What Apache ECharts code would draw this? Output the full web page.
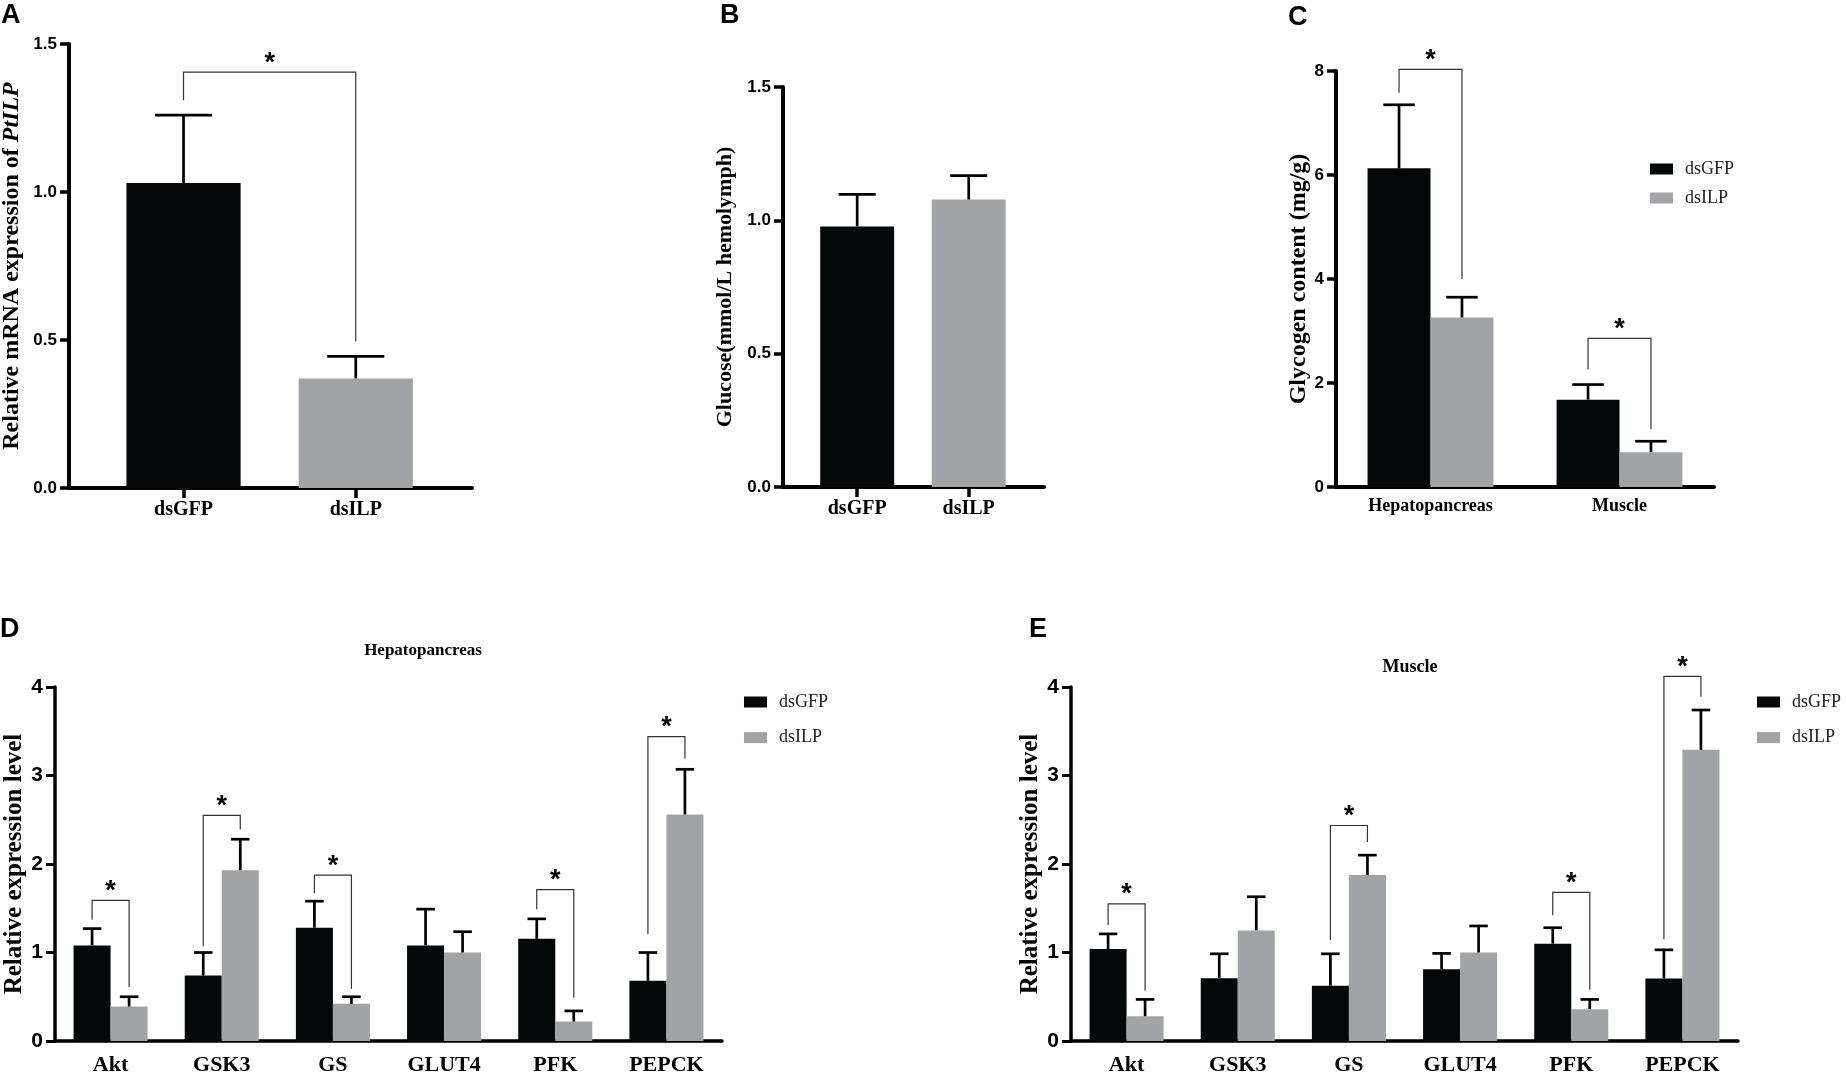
<!DOCTYPE html>
<html>
<head>
<meta charset="utf-8">
<title>ILP knockdown - glycogen and gene expression</title>
<script src="https://cdn.jsdelivr.net/npm/echarts@6/dist/echarts.min.js"></script>
<style>
    html, body { margin: 0; padding: 0; background: #fff; }
    #main { width: 1846px; height: 1075px; }
</style>
</head>
<body>
<div id="main"></div>
<script>
    // groups used in every panel
    var groups = ['dsGFP', 'dsILP'];
    var colors = ['#050808', '#a2a3a6'];

    // A: relative mRNA expression of PtILP
    var aMean = [1.03, 0.37];
    var aErr = [1.26, 0.445];
    var aSig = [[0, 1.405, 1.31, 0.495]];      // [from, top, left leg end, right leg end]

    // B: glucose (mmol/L hemolymph)
    var bMean = [0.977, 1.078];
    var bErr = [1.097, 1.168];

    // C: glycogen content (mg/g)
    var tissues = ['Hepatopancreas', 'Muscle'];
    var cGfp = [6.13, 1.68];
    var cGfpErr = [7.35, 1.97];
    var cIlp = [3.26, 0.67];
    var cIlpErr = [3.65, 0.88];
    var cSig = [[0, 8.03, 7.58, 4.0], [1, 2.86, 2.26, 1.11]];

    // D: hepatopancreas genes
    var genes = ['Akt', 'GSK3', 'GS', 'GLUT4', 'PFK', 'PEPCK'];
    var dGfp = [1.08, 0.74, 1.28, 1.08, 1.155, 0.68];
    var dGfpErr = [1.27, 1.00, 1.58, 1.49, 1.38, 1.00];
    var dIlp = [0.39, 1.93, 0.42, 1.00, 0.22, 2.56];
    var dIlpErr = [0.50, 2.28, 0.50, 1.235, 0.34, 3.07];
    var dSig = [[0, 1.59, 1.37, 0.61], [1, 2.55, 1.07, 2.39], [2, 1.875, 1.67, 0.59],
                [4, 1.71, 1.49, 0.49], [5, 3.44, 1.21, 3.19]];

    // E: muscle genes
    var eGfp = [1.04, 0.71, 0.625, 0.81, 1.10, 0.705];
    var eGfpErr = [1.21, 0.985, 0.985, 0.99, 1.28, 1.03];
    var eIlp = [0.28, 1.25, 1.875, 1.00, 0.36, 3.29];
    var eIlpErr = [0.47, 1.63, 2.10, 1.30, 0.47, 3.74];
    var eSig = [[0, 1.55, 1.31, 0.57], [2, 2.435, 1.14, 2.25], [4, 1.68, 1.42, 0.58],
                [5, 4.12, 1.15, 3.89]];

    var SERIF = '"Liberation Serif", "Times New Roman", serif';
    var SANS = '"Liberation Sans", Arial, sans-serif';
    var NARROW = '"Liberation Sans Narrow", "Liberation Sans", Arial, sans-serif';

    // error bar (upper only) drawn through the axes
    function errorBars(gi, means, tops, shift, barFrac) {
        return {
            type: 'custom', xAxisIndex: gi, yAxisIndex: gi, z: 4, silent: true,
            data: means.map(function (m, i) { return [i, m, tops[i]]; }),
            encode: { x: 0, y: [1, 2] },
            renderItem: function (params, api) {
                var p0 = api.coord([api.value(0), api.value(1)]);
                var p1 = api.coord([api.value(0), api.value(2)]);
                var band = api.size([1, 0])[0];
                var x = p0[0] + shift * band;
                var half = barFrac * band / 4;
                var st = { stroke: '#000', lineWidth: 2.7 };
                return {
                    type: 'group', children: [
                        { type: 'line', shape: { x1: x, y1: p0[1], x2: x, y2: p1[1] }, style: st },
                        { type: 'line', shape: { x1: x - half, y1: p1[1], x2: x + half, y2: p1[1] }, style: st }
                    ]
                };
            }
        };
    }

    // significance bracket with star
    function brackets(gi, rows, leftShift, rightShift) {
        return {
            type: 'custom', xAxisIndex: gi, yAxisIndex: gi, z: 5, silent: true,
            data: rows,
            encode: { x: 0, y: [1, 2, 3] },
            renderItem: function (params, api) {
                var c = api.value(0);
                var top = api.coord([c, api.value(1)]);
                var yl = api.coord([c, api.value(2)])[1];
                var yr = api.coord([c, api.value(3)])[1];
                var band = api.size([1, 0])[0];
                var xl = top[0] + leftShift * band;
                var xr = top[0] + rightShift * band;
                return {
                    type: 'group', children: [
                        {
                            type: 'polyline',
                            shape: { points: [[xl, yl], [xl, top[1]], [xr, top[1]], [xr, yr]] },
                            style: { stroke: '#333', lineWidth: 1.2, fill: 'none' }
                        },
                        {
                            type: 'text', x: (xl + xr) / 2, y: top[1] - 9,
                            style: {
                                text: '*', fill: '#000', align: 'center', verticalAlign: 'middle',
                                fontFamily: SANS, fontWeight: 'bold', fontSize: 27
                            }
                        }
                    ]
                };
            }
        };
    }

    function yAxis(gi, max, step, digits, name, nameSize, nameGap, labelSize, lineW, labelFont, rich) {
        return {
            gridIndex: gi, type: 'value', min: 0, max: max, interval: step,
            name: name, nameLocation: 'middle', nameGap: nameGap,
            nameTextStyle: rich ? { rich: rich } : {
                fontFamily: SERIF, fontWeight: 'bold', fontSize: nameSize, color: '#000'
            },
            splitLine: { show: false },
            axisLine: { show: true, onZero: false, lineStyle: { color: '#000', width: lineW } },
            axisTick: { show: true, length: 9, lineStyle: { color: '#000', width: lineW - 0.5 } },
            axisLabel: {
                margin: 12, color: '#000', fontFamily: labelFont, fontWeight: 'bold', fontSize: labelSize,
                formatter: function (v) { return v.toFixed(digits); }
            }
        };
    }

    function catAxis(gi, cats, fontSize, margin, lineW) {
        return {
            gridIndex: gi, type: 'category', data: cats,
            axisLine: { onZero: false, lineStyle: { color: '#000', width: lineW } },
            axisTick: { alignWithLabel: true, length: 10, lineStyle: { color: '#000', width: lineW - 0.5 } },
            axisLabel: {
                margin: margin, color: '#000', fontFamily: SERIF, fontWeight: 'bold', fontSize: fontSize
            }
        };
    }

    // A and B use a value axis so the two bars can sit closer than a category band
    function pairAxis(gi) {
        return {
            gridIndex: gi, type: 'value', min: -0.665, max: 1.675,
            splitLine: { show: false },
            axisLine: { onZero: false, lineStyle: { color: '#000', width: 4 } },
            axisTick: { customValues: [0, 1], length: 10, lineStyle: { color: '#000', width: 3.5 } },
            axisLabel: {
                customValues: [0, 1], margin: 12, color: '#000',
                fontFamily: SERIF, fontWeight: 'bold', fontSize: 20,
                formatter: function (v) { return groups[v] || ''; }
            }
        };
    }

    function pairBars(gi, means) {
        return {
            type: 'bar', xAxisIndex: gi, yAxisIndex: gi, barWidth: '66.3%', silent: true,
            data: means.map(function (v, i) {
                return { value: [i, v], itemStyle: { color: colors[i] } };
            })
        };
    }

    function groupBars(gi, gfp, ilp) {
        return [gfp, ilp].map(function (vals, k) {
            return {
                type: 'bar', name: groups[k], xAxisIndex: gi, yAxisIndex: gi,
                barWidth: '33.3%', barGap: '0%', silent: true,
                itemStyle: { color: colors[k] }, data: vals
            };
        });
    }

    function legend(left, top, gap) {
        return {
            left: left, top: top, orient: 'vertical', padding: 0,
            itemWidth: 23, itemHeight: 11, itemGap: gap, icon: 'rect', selectedMode: false,
            data: groups,
            textStyle: { fontFamily: SERIF, fontSize: 18, color: '#222', padding: [0, 0, 0, 7] }
        };
    }

    function letter(txt, x, y) {
        return {
            type: 'text', left: x, top: y,
            style: { text: txt, fill: '#000', fontFamily: SANS, fontWeight: 'bold', fontSize: 27 }
        };
    }

    var gridBase = { containLabel: false, outerBoundsMode: 'none' };
    var grids = [
        { left: 69, top: 44, width: 403, height: 444 },
        { left: 783, top: 87, width: 261, height: 400 },
        { left: 1336, top: 71, width: 378, height: 416 },
        { left: 55, top: 687, width: 667, height: 354 },
        { left: 1071, top: 687, width: 667, height: 354 }
    ].map(function (g) { return Object.assign({}, gridBase, g); });

    var richA = {
        n: { fontFamily: SERIF, fontWeight: 'bold', fontSize: 24, color: '#000' },
        i: { fontFamily: SERIF, fontWeight: 'bold', fontStyle: 'italic', fontSize: 24, color: '#000' }
    };

    var option = {
        animation: false,
        backgroundColor: '#fff',
        title: [
            { text: 'Hepatopancreas', left: 418, top: 637, textAlign: 'center',
              textStyle: { fontFamily: SERIF, fontWeight: 'bold', fontSize: 17, color: '#000' } },
            { text: 'Muscle', left: 1405, top: 653, textAlign: 'center',
              textStyle: { fontFamily: SERIF, fontWeight: 'bold', fontSize: 18, color: '#000' } }
        ],
        legend: [legend(1650, 160, 11), legend(744, 693, 17.6), legend(1757, 693, 17.6)],
        grid: grids,
        xAxis: [
            pairAxis(0),
            pairAxis(1),
            catAxis(2, tissues, 18, 10, 4),
            catAxis(3, genes, 22, 13, 3.5),
            catAxis(4, genes, 22, 13, 3.5)
        ],
        yAxis: [
            yAxis(0, 1.5, 0.5, 1, '{n|Relative mRNA expression of }{i|PtILP}', 24, 45, 17, 4, SANS, richA),
            yAxis(1, 1.5, 0.5, 1, 'Glucose(mmol/L hemolymph)', 22, 47, 17, 4, SANS),
            yAxis(2, 8, 2, 0, 'Glycogen content (mg/g)', 24, 25, 17, 4, SANS),
            yAxis(3, 4, 1, 0, 'Relative expression level', 25, 28, 21, 3.5, NARROW),
            yAxis(4, 4, 1, 0, 'Relative expression level', 25, 19, 21, 3.5, NARROW)
        ],
        series: [].concat(
            pairBars(0, aMean),
            errorBars(0, aMean, aErr, 0, 0.663),
            brackets(0, aSig, 0, 1),
            pairBars(1, bMean),
            errorBars(1, bMean, bErr, 0, 0.663),
            groupBars(2, cGfp, cIlp),
            errorBars(2, cGfp, cGfpErr, -0.1665, 0.333),
            errorBars(2, cIlp, cIlpErr, 0.1665, 0.333),
            brackets(2, cSig, -0.1665, 0.1665),
            groupBars(3, dGfp, dIlp),
            errorBars(3, dGfp, dGfpErr, -0.1665, 0.333),
            errorBars(3, dIlp, dIlpErr, 0.1665, 0.333),
            brackets(3, dSig, -0.1665, 0.1665),
            groupBars(4, eGfp, eIlp),
            errorBars(4, eGfp, eGfpErr, -0.1665, 0.333),
            errorBars(4, eIlp, eIlpErr, 0.1665, 0.333),
            brackets(4, eSig, -0.1665, 0.1665)
        ),
        graphic: [
            letter('A', 1, 2),
            letter('B', 720, 2),
            letter('C', 1288, 4),
            letter('D', 0, 616),
            letter('E', 1029, 616)
        ]
    };

    var chart = echarts.init(document.getElementById('main'));
    chart.setOption(option);
</script>
</body>
</html>
